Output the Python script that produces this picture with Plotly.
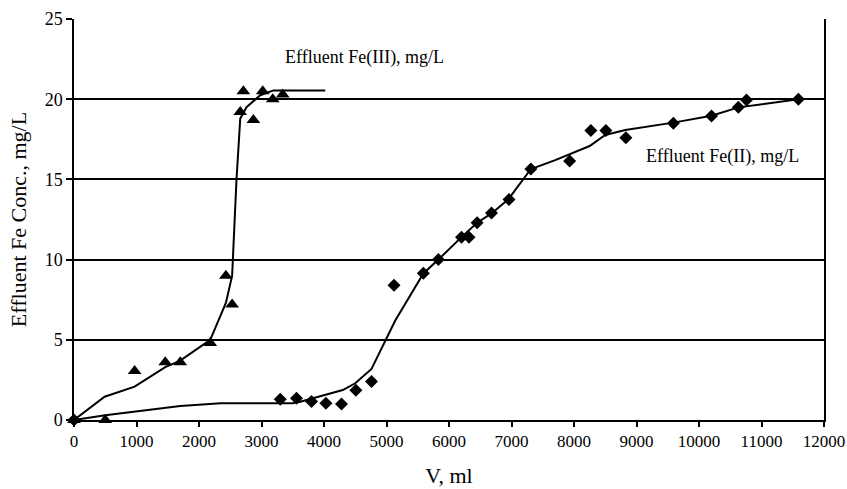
import plotly.graph_objects as go

# Fe(III) measured points
fe3_x = [0, 500, 970, 1460, 1700, 2180, 2430, 2530, 2660, 2710, 2870, 3020, 3180, 3340]
fe3_y = [0, 0.0, 3.05, 3.6, 3.6, 4.8, 9.0, 7.2, 19.2, 20.5, 18.7, 20.5, 20.0, 20.3]
# Fe(III) fitted curve
fe3_fit_x = [0, 490, 970, 1460, 1700, 2180, 2430, 2530, 2600, 2660, 2760, 2980, 3190, 4020]
fe3_fit_y = [0, 1.45, 2.08, 3.3, 3.7, 5.0, 7.3, 9.0, 15.0, 18.8, 19.5, 20.25, 20.55, 20.55]

# Fe(II) measured points
fe2_x = [0, 3300, 3560, 3800, 4030, 4280, 4510, 4760, 5120, 5590, 5830, 6200, 6320,
         6450, 6680, 6960, 7310, 7930, 8270, 8510, 8830, 9590, 10200, 10630, 10760, 11590]
fe2_y = [0, 1.3, 1.35, 1.15, 1.05, 1.0, 1.85, 2.4, 8.4, 9.15, 10.0, 11.4, 11.4,
         12.3, 12.9, 13.75, 15.65, 16.15, 18.05, 18.05, 17.6, 18.5, 18.95, 19.5, 19.95, 20.0]
# Fe(II) fitted curve
fe2_fit_x = [0, 500, 1700, 2350, 3500, 3620, 4300, 4500, 4760, 5010, 5140, 5590, 5830,
             6200, 6450, 6680, 6950, 7310, 7700, 8250, 8500, 8820, 9590, 10200, 10630, 11590]
fe2_fit_y = [0, 0.3, 0.87, 1.04, 1.04, 1.14, 1.87, 2.29, 3.18, 5.1, 6.2, 9.14, 10.0,
             11.4, 12.3, 12.88, 13.76, 15.65, 16.2, 17.08, 17.77, 18.08, 18.54, 18.97, 19.49, 19.99]

x_ticks = list(range(0, 12001, 1000))
y_ticks = [0, 5, 10, 15, 20, 25]

FONT = "Liberation Serif"

fig = go.Figure()
fig.add_trace(go.Scatter(x=fe3_fit_x, y=fe3_fit_y, mode="lines",
                         line=dict(color="black", width=2), showlegend=False))
fig.add_trace(go.Scatter(x=fe2_fit_x, y=fe2_fit_y, mode="lines",
                         line=dict(color="black", width=2), showlegend=False))
fig.add_trace(go.Scatter(x=fe3_x, y=fe3_y, mode="markers",
                         marker=dict(symbol="triangle-up", size=12, color="black"),
                         showlegend=False, cliponaxis=False))
fig.add_trace(go.Scatter(x=fe2_x, y=fe2_y, mode="markers",
                         marker=dict(symbol="diamond", size=10, color="black"),
                         showlegend=False, cliponaxis=False))

fig.add_annotation(x=3340, y=22.6, text="Effluent Fe(III), mg/L", showarrow=False,
                   xanchor="left", yanchor="middle", font=dict(family=FONT, size=18, color="black"))
fig.add_annotation(x=9120, y=16.45, text="Effluent Fe(II), mg/L", showarrow=False,
                   xanchor="left", yanchor="middle", font=dict(family=FONT, size=18, color="black"))

fig.update_layout(
    width=847, height=489,
    margin=dict(l=74, r=23, t=19, b=69, autoexpand=False),
    paper_bgcolor="white", plot_bgcolor="white",
    font=dict(family=FONT, size=18, color="black"),
    xaxis=dict(range=[0, 12000], tickvals=x_ticks, ticktext=[str(v) for v in x_ticks],
               tickfont=dict(size=17),
               showgrid=False, zeroline=False, showline=True, linecolor="black", linewidth=2,
               ticks="outside", ticklen=5, tickcolor="black", tickwidth=1.5,
               title=dict(text="V, ml", standoff=17), automargin=False),
    yaxis=dict(range=[0, 25], tickvals=y_ticks, ticktext=[str(v) for v in y_ticks],
               showgrid=True, gridcolor="black", gridwidth=1.5, zeroline=False,
               showline=True, linecolor="black", linewidth=1.5, mirror=True,
               ticks="outside", ticklen=6, tickcolor="black", tickwidth=1.5,
               title=dict(text="Effluent Fe Conc., mg/L", standoff=12), automargin=False),
)

fig.write_html("out.html", config={"displayModeBar": False},
               post_script="document.body.style.margin='0';document.body.style.overflow='hidden';")
